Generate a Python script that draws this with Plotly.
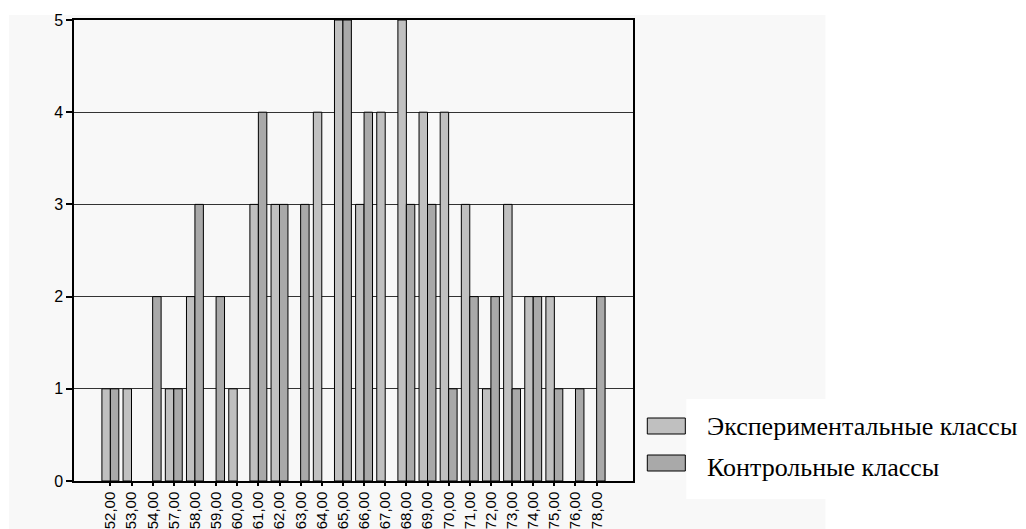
import plotly.graph_objects as go

categories = ["52,00", "53,00", "54,00", "57,00", "58,00", "59,00", "60,00", "61,00",
              "62,00", "63,00", "64,00", "65,00", "66,00", "67,00", "68,00", "69,00",
              "70,00", "71,00", "72,00", "73,00", "74,00", "75,00", "76,00", "78,00"]
experimental = [1, 1, 0, 1, 2, 0, 1, 3, 3, 0, 4, 5, 3, 4, 5, 4, 4, 3, 1, 3, 2, 2, 0, 0]
control = [1, 0, 2, 1, 3, 2, 0, 4, 3, 3, 0, 5, 4, 0, 3, 3, 1, 2, 2, 1, 2, 1, 1, 2]
series_names = ["Экспериментальные классы", "Контрольные классы"]
series_colors = ["#c0c0c0", "#a9a9a9"]
y_ticks = [0, 1, 2, 3, 4, 5]

# page has an 8px body margin; work in screenshot pixels and shift
OFF = 8
W, H = 1026 - OFF, 529 - OFF
L, R, T, B = 74, 632.7, 20, 481  # screenshot pixel coords of plot area

def px(x):
    return (x - L) / (R - L)

def py(y):
    return (B - y) / (B - T)

fig = go.Figure()
for name, vals, col in zip(series_names, [experimental, control], series_colors):
    fig.add_trace(go.Bar(
        x=categories, y=[v if v else None for v in vals], name=name,
        marker=dict(color=col, line=dict(color="black", width=1)),
        showlegend=False,
    ))

shapes = [
    dict(type="rect", xref="paper", yref="paper", x0=px(9), x1=px(825), y0=py(15), y1=py(540),
         fillcolor="#f8f8f8", line=dict(width=0), layer="below"),
    dict(type="rect", xref="paper", yref="paper", x0=px(686), x1=px(1040), y0=py(399), y1=py(499),
         fillcolor="white", line=dict(width=0), layer="below"),
]
annotations = []
legend_rows = [(418, 434, 426), (455, 471, 467)]
for (y0, y1, yc), name, col in zip(legend_rows, series_names, series_colors):
    shapes.append(dict(type="rect", xref="paper", yref="paper", x0=px(647), x1=px(685),
                       y0=py(y1), y1=py(y0), fillcolor=col,
                       line=dict(color="black", width=1)))
    annotations.append(dict(xref="paper", yref="paper", x=px(705), y=py(yc), text=name,
                            showarrow=False, xanchor="left", yanchor="middle",
                            font=dict(family="Liberation Serif, Times New Roman, serif",
                                      size=26, color="black")))

fig.update_layout(
    width=W, height=H,
    margin=dict(l=L - OFF, r=1026 - R, t=T - OFF, b=529 - B, pad=0, autoexpand=False),
    paper_bgcolor="white",
    plot_bgcolor="#f8f8f8",
    barmode="group", bargap=0.2, bargroupgap=0.0,
    shapes=shapes, annotations=annotations,
    font=dict(family="Arial, Liberation Sans, sans-serif", color="black"),
    xaxis=dict(
        type="category", range=[-1.72, len(categories) - 1 + 1.72], automargin=False,
        showline=True, linecolor="black", linewidth=1.5, mirror=True,
        showgrid=False, ticks="outside", ticklen=3, tickwidth=2, tickcolor="black",
        tickangle=-90, tickfont=dict(size=15, family="Arial, Liberation Sans, sans-serif"),
    ),
    yaxis=dict(
        range=[0, 5], tickvals=y_ticks, ticktext=[str(v) for v in y_ticks], automargin=False,
        showline=True, linecolor="black", linewidth=1.5, mirror=True,
        showgrid=True, gridcolor="#333333", gridwidth=1,
        ticks="outside", ticklen=6, tickwidth=2, tickcolor="black",
        tickfont=dict(size=16), zeroline=False,
    ),
)

fig.write_html("out.html")
